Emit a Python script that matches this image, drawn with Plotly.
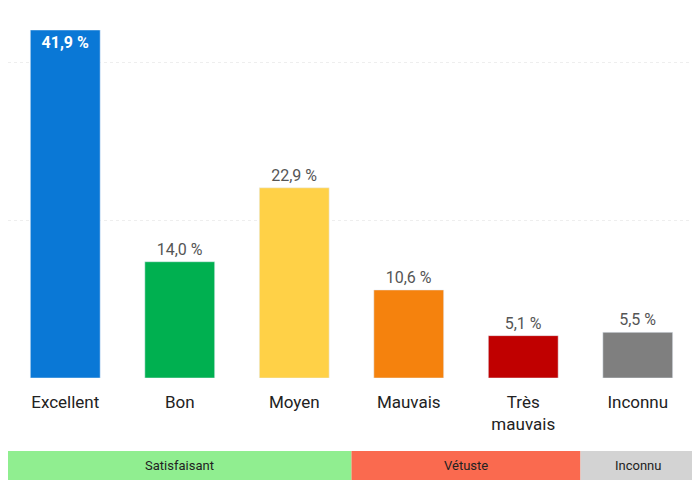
import plotly.graph_objects as go

categories = ["Excellent", "Bon", "Moyen", "Mauvais", "Très<br>mauvais", "Inconnu"]
values = [41.9, 14.0, 22.9, 10.6, 5.1, 5.5]
colors = ["#0A78D6", "#00B050", "#FFD147", "#F5820D", "#C00000", "#7F7F7F"]
groups = ["Satisfaisant", "Vétuste", "Inconnu"]
group_spans = [(-0.5, 2.5), (2.5, 4.5), (4.5, 5.5)]
group_colors = ["#90EE90", "#FA6A4F", "#D3D3D3"]

labels = [f"{v:.1f} %".replace(".", ",") for v in values]
xs = list(range(len(categories)))
positions = ["inside" if v > 30 else "outside" for v in values]
text_colors = ["white" if v > 30 else "#555" for v in values]
texts = ["<b>" + l + "</b>" if v > 30 else l for l, v in zip(labels, values)]

fig = go.Figure()
fig.add_trace(go.Bar(
    x=xs, y=values, marker_color=colors, text=texts,
    textposition=positions, insidetextanchor="end",
    textfont=dict(color=text_colors, size=16),
    cliponaxis=False,
))

# category group bands under the axis
for g, (x0, x1), c in zip(groups, group_spans, group_colors):
    fig.add_shape(type="rect", xref="x", yref="paper", x0=x0, x1=x1,
                  y0=-0.293, y1=-0.21, fillcolor=c, line_width=0, layer="below")
    fig.add_annotation(x=(x0 + x1) / 2, y=-0.2515, xref="x", yref="paper",
                       yanchor="middle", text=g, showarrow=False,
                       font=dict(size=13, color="#222"))

fig.update_layout(
    width=700, height=480, plot_bgcolor="white", paper_bgcolor="white",
    margin=dict(l=0, r=13, t=22, b=110), bargap=0.39, showlegend=False,
    font=dict(family="Roboto, Arial, sans-serif"),
)
fig.update_xaxes(tickvals=xs, ticktext=categories, range=[-0.5, 5.5],
                 tickfont=dict(size=17, color="#222"), showline=False, ticks="",
                 ticklabelstandoff=12)
fig.update_yaxes(range=[0, 41.9], showticklabels=False, dtick=19,
                 gridcolor="#eeeeee", griddash="dot", zeroline=False)

fig.write_html("out.html")
